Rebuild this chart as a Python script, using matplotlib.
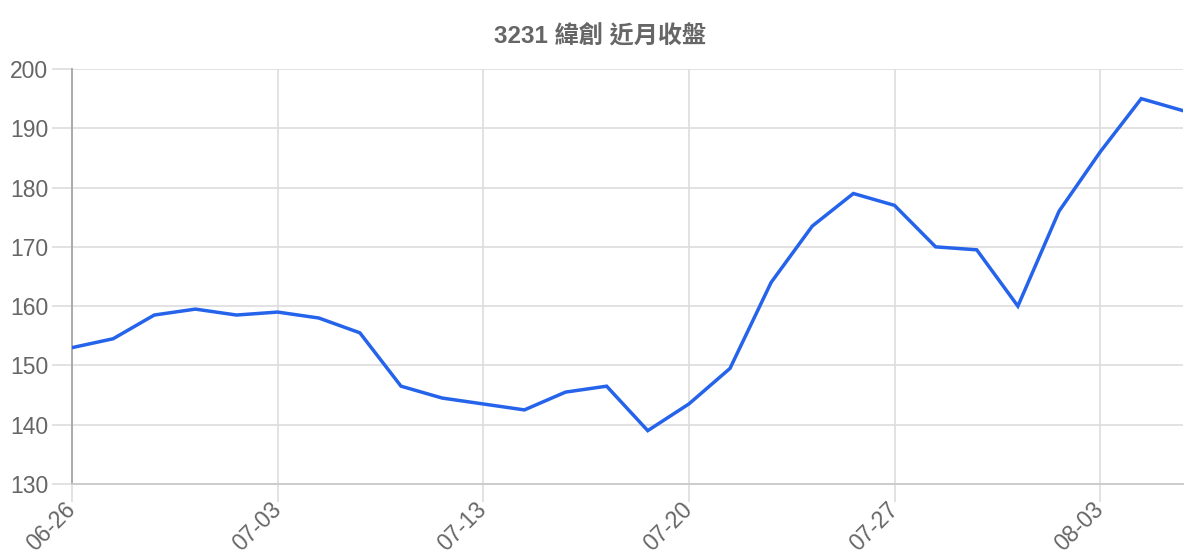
import matplotlib
matplotlib.use("Agg")
import matplotlib.pyplot as plt

dates = ["06-26", "06-27", "06-28", "06-29", "06-30",
         "07-03", "07-04", "07-05", "07-06", "07-07",
         "07-13", "07-14", "07-17", "07-18", "07-19",
         "07-20", "07-21", "07-24", "07-25", "07-26",
         "07-27", "07-28", "07-31", "08-01", "08-02",
         "08-03", "08-04", "08-07"]
closes = [153, 154.5, 158.5, 159.5, 158.5,
          159, 158, 155.5, 146.5, 144.5,
          143.5, 142.5, 145.5, 146.5, 139,
          143.5, 149.5, 164, 173.5, 179,
          177, 170, 169.5, 160, 176,
          186, 195, 193]
title = "3231 緯創 近月收盤"
y_ticks = [130, 140, 150, 160, 170, 180, 190, 200]

fam = ["Liberation Sans", "Noto Sans CJK TC", "DejaVu Sans"]
plt.rcParams["font.family"] = fam

fig = plt.figure(figsize=(12, 5.6), dpi=100)
ax = fig.add_axes([0.06, 0.1357, 0.926, 0.7411])

x = list(range(len(dates)))
ax.plot(x, closes, color="#2563EB", linewidth=2.5, solid_joinstyle="miter", zorder=3)

ax.set_xlim(0, len(dates) - 1 + 0.02)
ax.set_ylim(130, 200)
ax.set_yticks(y_ticks)
ax.set_yticklabels([str(v) for v in y_ticks])

xt = list(range(0, len(dates), 5))
ax.set_xticks(xt)
ax.set_xticklabels([dates[i] for i in xt], rotation=45, ha="right",
                   va="center", rotation_mode="anchor")

ax.grid(True, color="#dddddd", linewidth=1.2, zorder=0)
ax.tick_params(axis="y", length=14.5, width=1.2, color="#dddddd",
               labelcolor="#666666", labelsize=16.5, pad=2.5)
ax.tick_params(axis="x", length=13, width=1.2, color="#dddddd",
               labelcolor="#666666", labelsize=16.5, pad=3)

for s in ["top", "right"]:
    ax.spines[s].set_visible(False)
ax.spines["left"].set_color("#aaaaaa")
ax.spines["left"].set_linewidth(1.4)
ax.spines["bottom"].set_color("#cccccc")
ax.spines["bottom"].set_linewidth(1.4)
ax.xaxis.get_major_ticks()[0].tick1line.set_color("#aaaaaa")

fig.text(0.5, 0.937, title, ha="center", va="center", fontsize=17.4,
         fontweight="bold", color="#666666", family=fam)

fig.savefig("out.png", dpi=100)
